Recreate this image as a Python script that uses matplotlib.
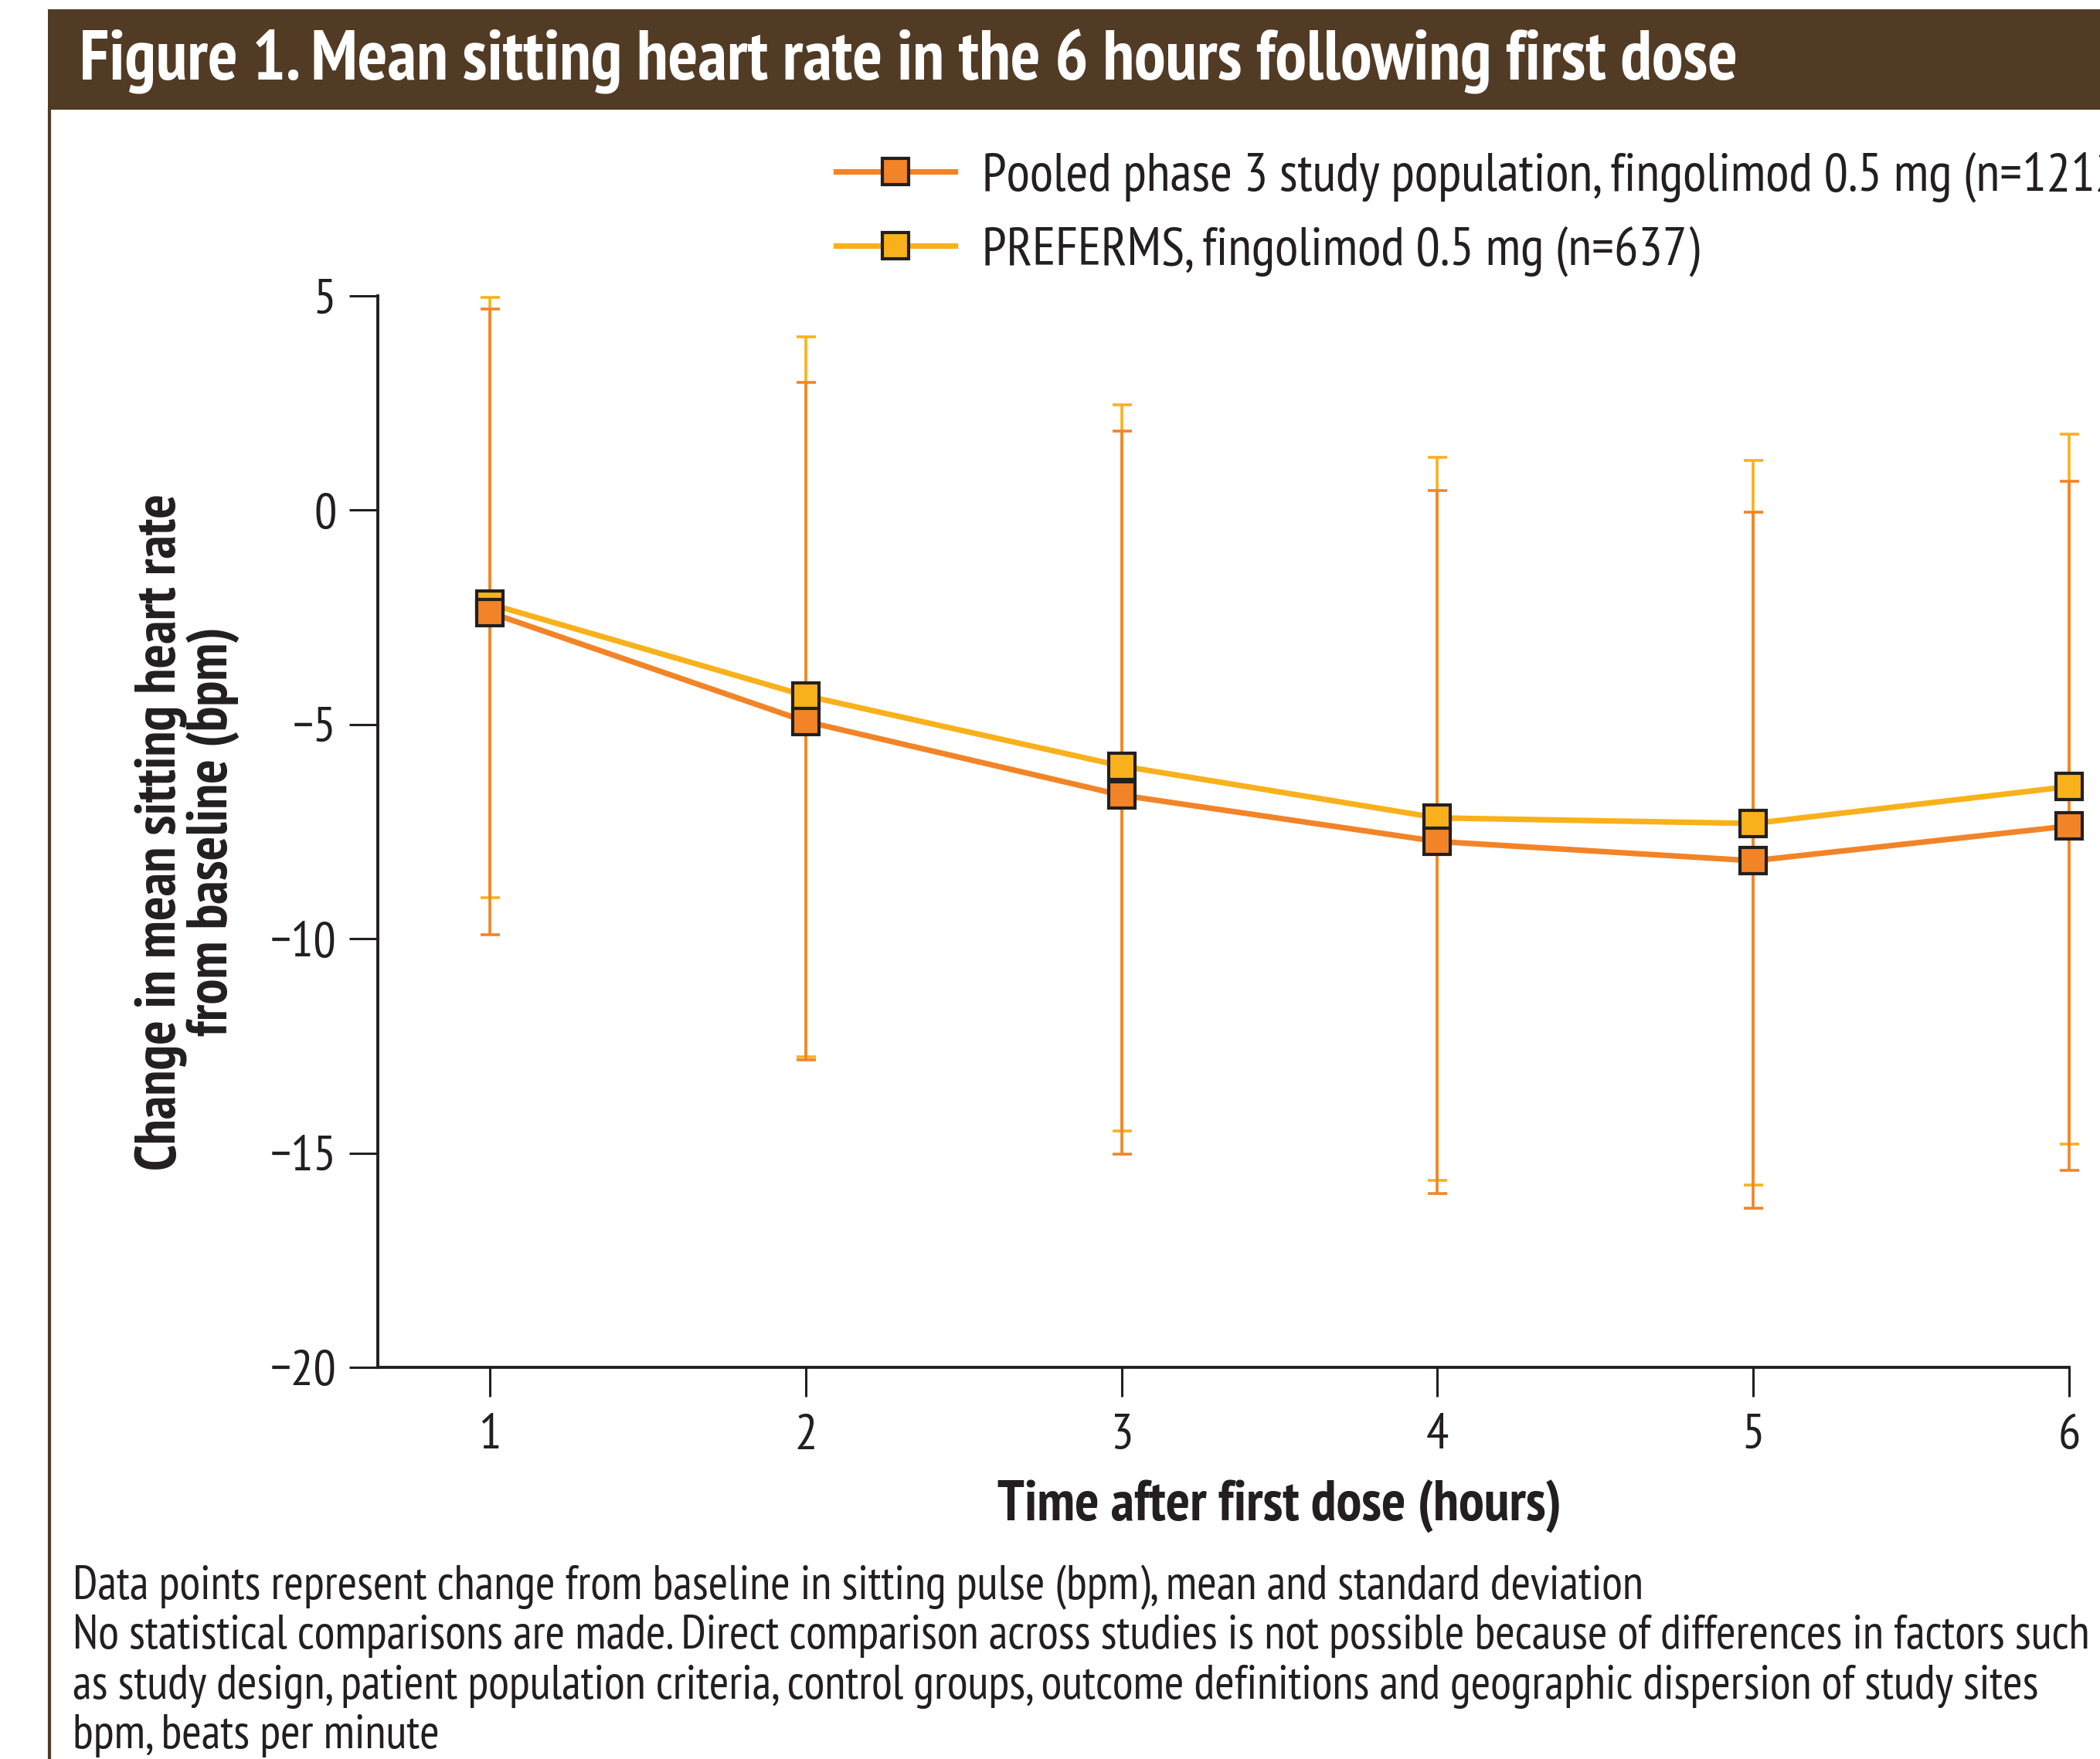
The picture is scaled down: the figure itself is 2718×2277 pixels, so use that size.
import matplotlib
matplotlib.use('Agg')
import matplotlib.pyplot as plt
from matplotlib.patches import Rectangle
from matplotlib.lines import Line2D

plt.rcParams['font.family'] = ['PT Sans Narrow', 'Roboto Condensed', 'DejaVu Sans']

# values (change from baseline, bpm)
hours = [1, 2, 3, 4, 5, 6]
pooled_mean = [-2.39, -4.93, -6.65, -7.73, -8.18, -7.37]
pooled_upper = [4.69, 2.98, 1.84, 0.46, -0.05, 0.67]
pooled_lower = [-9.91, -12.82, -15.02, -15.95, -16.29, -15.41]
preferms_mean = [-2.19, -4.33, -5.97, -7.18, -7.31, -6.45]
preferms_upper = [4.97, 4.05, 2.45, 1.24, 1.16, 1.78]
preferms_lower = [-9.04, -12.75, -14.49, -15.64, -15.75, -14.79]

pooled_label = 'Pooled phase 3 study population, fingolimod 0.5 mg (n=1212)'
preferms_label = 'PREFERMS, fingolimod 0.5 mg (n=637)'
yticks = [5, 0, -5, -10, -15, -20]

title = 'Figure 1. Mean sitting heart rate in the 6 hours following first dose'
xlabel = 'Time after first dose (hours)'
ylabel = ['Change in mean sitting heart rate', 'from baseline (bpm)']
footnotes = [
    'Data points represent change from baseline in sitting pulse (bpm), mean and standard deviation',
    'No statistical comparisons are made. Direct comparison across studies is not possible because of differences in factors such',
    'as study design, patient population criteria, control groups, outcome definitions and geographic dispersion of study sites',
    'bpm, beats per minute',
]

ORANGE = '#F28427'
YELLOW = '#F9B11B'
BROWN = '#523B25'
INK = '#231F20'

W, H = 2718, 2277
fig = plt.figure(figsize=(W / 100, H / 100), dpi=100)
renderer = fig.canvas.get_renderer()


def fit_size(s, target_px, weight='normal', ref=40):
    # font size that makes the string about target_px wide
    t = fig.text(0, 0, s, fontsize=ref, fontweight=weight)
    w = t.get_window_extent(renderer=renderer).width
    t.remove()
    return ref * target_px / w


title_fs = fit_size(title, 2145, 'bold')
foot_fs = fit_size(footnotes[0], 2025)
legend_fs = fit_size(preferms_label, 927)
xlabel_fs = fit_size(xlabel, 730, 'bold')
ylabel_fs = fit_size(ylabel[0], 877, 'bold')

# title bar and left frame line
fig.add_artist(Rectangle((62 / W, 1 - 142 / H), 1 - 62 / W, 130 / H,
                         transform=fig.transFigure, facecolor=BROWN, edgecolor='none'))
fig.add_artist(Line2D([64 / W, 64 / W], [0, 1 - 142 / H], transform=fig.transFigure,
                      color=BROWN, lw=3))
fig.text(103 / W, 1 - 104 / H, title, color='white', fontsize=title_fs, fontweight='bold',
         va='baseline')

ax = fig.add_axes([489 / W, 1 - 1770 / H, (2678 - 489) / W, (1770 - 383) / H])
ax.set_facecolor('none')


def draw_errorbars(mean, upper, lower, color, z):
    err = [[m - lo for m, lo in zip(mean, lower)], [u - m for m, u in zip(mean, upper)]]
    cont = ax.errorbar(hours, mean, yerr=err, fmt='none', ecolor=color, elinewidth=2.6,
                       capsize=9, capthick=2.6, zorder=z)
    for art in cont.get_children():
        art.set_clip_on(False)


draw_errorbars(preferms_mean, preferms_upper, preferms_lower, YELLOW, 2)
draw_errorbars(pooled_mean, pooled_upper, pooled_lower, ORANGE, 3)

l1, = ax.plot(hours, pooled_mean, color=ORANGE, lw=5.2, marker='s', markersize=25,
              markerfacecolor=ORANGE, markeredgecolor=INK, markeredgewidth=3,
              zorder=5, clip_on=False, label=pooled_label)
l2, = ax.plot(hours, preferms_mean, color=YELLOW, lw=5.2, marker='s', markersize=25,
              markerfacecolor=YELLOW, markeredgecolor=INK, markeredgewidth=3,
              zorder=4, clip_on=False, label=preferms_label)

ax.set_xlim(0.645, 6)
ax.set_ylim(-20, 5)
ax.set_xticks(hours)
ax.set_yticks(yticks)
ax.set_yticklabels([str(t).replace('-', '\u2212') for t in yticks])

for side in ['top', 'right']:
    ax.spines[side].set_visible(False)
for side in ['left', 'bottom']:
    ax.spines[side].set_linewidth(2.8)
    ax.spines[side].set_color(INK)

ax.tick_params(axis='both', colors=INK, labelsize=47, width=2.2, direction='out')
ax.tick_params(axis='y', length=26.5, pad=12)
ax.tick_params(axis='x', length=27, pad=16)

ax.set_xlabel(xlabel, fontsize=xlabel_fs, fontweight='bold', color=INK, va='baseline')
ax.xaxis.set_label_coords(0.533, -0.1435)
ax.set_ylabel('\n'.join(ylabel), fontsize=ylabel_fs, fontweight='bold', color=INK,
              va='center', linespacing=0.98)
ax.yaxis.set_label_coords(-0.1125, 0.5)

ax.legend(handles=[l1, l2], loc='upper left', bbox_to_anchor=(1082 / W, 1 - 196 / H),
          bbox_transform=fig.transFigure, frameon=False, fontsize=legend_fs, numpoints=1,
          handlelength=154 / (legend_fs * 100 / 72), handletextpad=0.5, labelspacing=0.44,
          borderpad=0, borderaxespad=0, labelcolor=INK)

for i, line in enumerate(footnotes):
    fig.text(94 / W, 1 - (2070 + i * 64.4) / H, line, fontsize=foot_fs, color=INK, va='baseline')

fig.savefig('out.png', dpi=100, facecolor='white')
